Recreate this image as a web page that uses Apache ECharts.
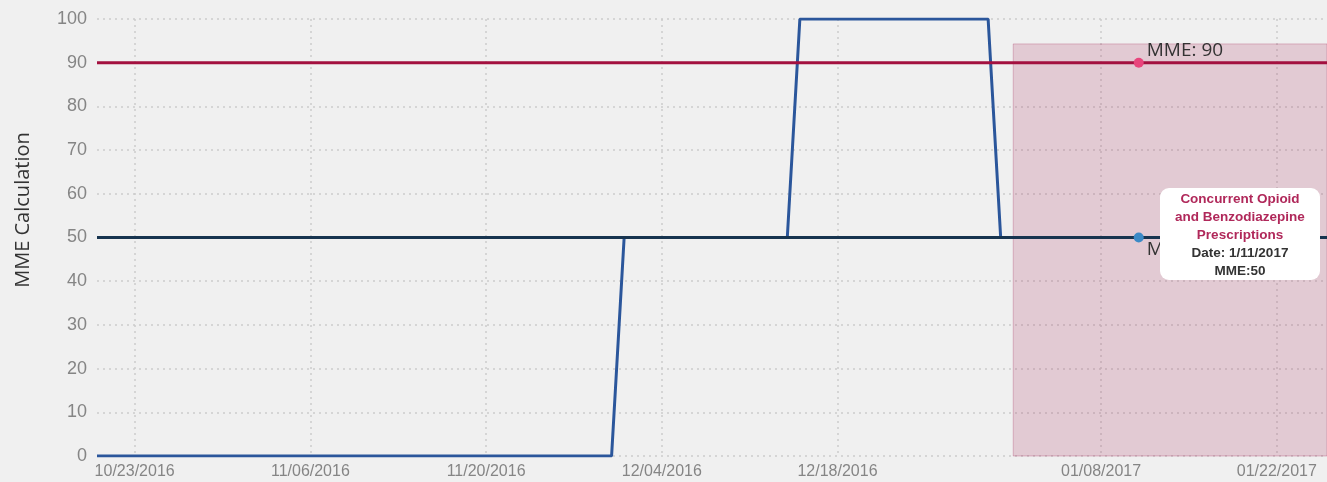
<!DOCTYPE html>
<html>
<head>
<meta charset="utf-8">
<script src="https://cdn.jsdelivr.net/npm/echarts@6/dist/echarts.min.js"></script>
<style>
html, body { margin: 0; padding: 0; background: #f0f0f0; }
#chart { width: 1327px; height: 482px; }
</style>
</head>
<body>
<div id="chart"></div>
<script>
// 坐标轴范围和刻度
var axisStart = '2016-10-20';
var axisEnd = '2017-01-26';
var tickDates = ['2016-10-23', '2016-11-06', '2016-11-20', '2016-12-04', '2016-12-18', '2017-01-08', '2017-01-22'];

// MME 折线
var mmeDates = ['2016-10-20', '2016-11-30', '2016-12-01', '2016-12-14', '2016-12-15', '2016-12-30', '2016-12-31', '2017-01-26'];
var mmeValues = [0, 0, 50, 50, 100, 100, 50, 50];

// 阈值线
var limitHigh = 90;
var limitLow = 50;
var markerDate = '2017-01-11';

// 并用处方区间
var overlapStart = '2017-01-01';
var overlapTop = 94.3;

var toTime = function(s) {
	var p = s.split('-');
	return Date.UTC(+p[0], +p[1] - 1, +p[2]);
};
var pad = function(n) { return n < 10 ? '0' + n : '' + n; };
var fmtDate = function(t) {
	var d = new Date(t);
	return pad(d.getUTCMonth() + 1) + '/' + pad(d.getUTCDate()) + '/' + d.getUTCFullYear();
};

var xMin = toTime(axisStart);
var xMax = toTime(axisEnd);
var ticks = tickDates.map(toTime);

var mmeData = mmeDates.map(function(d, i) { return [toTime(d), mmeValues[i]]; });

var limitLine = function(value, dotColor) {
	return [
		[xMin, value],
		{
			value: [toTime(markerDate), value],
			symbol: 'circle',
			symbolSize: 10,
			itemStyle: { color: dotColor },
			label: {
				show: true,
				formatter: 'MME: ' + value,
				position: 'right',
				offset: [-2, value === limitHigh ? -12 : 12],
				color: '#333',
				fontSize: 19,
				fontFamily: 'Open Sans'
			}
		},
		[xMax, value]
	];
};

var myChart = echarts.init(document.getElementById('chart'));
var option = {
	backgroundColor: '#f0f0f0',
	animation: false,
	grid: { left: 97, right: 0, top: 19, bottom: 26 },
	tooltip: {
		trigger: 'item',
		alwaysShowContent: true,
		backgroundColor: '#fff',
		borderColor: '#fff',
		borderWidth: 0,
		borderRadius: 9,
		padding: [2, 5, 0, 5],
		extraCssText: 'box-shadow:none;text-align:center;white-space:normal;',
		position: function(point) {
			return [point[0] + 21, point[1] - 50];
		},
		formatter: function() {
			return '<div style="width:150px;white-space:normal;font:bold 13.5px Arial, Liberation Sans, sans-serif;line-height:18px;">' +
				'<div style="color:#b0285a;">Concurrent Opioid<br>and Benzodiazepine<br>Prescriptions</div>' +
				'<div style="color:#333;">Date: 1/11/2017</div>' +
				'<div style="color:#333;">MME:' + limitLow + '</div></div>';
		}
	},
	graphic: [{
		type: 'text',
		x: 23,
		y: 210,
		rotation: Math.PI / 2,
		style: {
			text: 'MME Calculation',
			align: 'center',
			verticalAlign: 'middle',
			fill: '#333',
			fontSize: 20,
			fontFamily: 'Open Sans'
		}
	}],
	xAxis: {
		type: 'value',
		min: xMin,
		max: xMax,
		axisLine: { show: false },
		axisTick: { show: false, customValues: ticks },
		axisLabel: {
			customValues: ticks,
			formatter: fmtDate,
			color: '#858585',
			fontSize: 16,
			fontFamily: 'Liberation Sans',
			margin: 8
		},
		splitLine: { show: true, lineStyle: { color: '#cccccc', type: [2, 4], width: 1.5 } }
	},
	yAxis: {
		type: 'value',
		min: 0,
		max: 100,
		interval: 10,
		axisLine: { show: false },
		axisTick: { show: false },
		axisLabel: { color: '#858585', fontSize: 18, fontFamily: 'Liberation Sans', margin: 10 },
		splitLine: { lineStyle: { color: '#cccccc', type: [2, 4], width: 1.5 } }
	},
	series: [{
		name: 'MME',
		type: 'line',
		data: mmeData,
		symbol: 'none',
		lineStyle: { color: '#2b569b', width: 3 },
		itemStyle: { color: '#2b569b' },
		markArea: {
			silent: true,
			itemStyle: { color: 'rgba(160,20,70,0.17)', borderColor: 'rgba(160,20,70,0.25)', borderWidth: 1 },
			data: [[{ coord: [toTime(overlapStart), 0] }, { coord: [xMax, overlapTop] }]]
		},
		z: 2
	}, {
		name: 'MME 90',
		type: 'line',
		data: limitLine(limitHigh, '#e8457c'),
		symbol: 'none',
		showSymbol: true,
		lineStyle: { color: '#a3103f', width: 3 },
		itemStyle: { color: '#a3103f' },
		z: 3
	}, {
		name: 'MME 50',
		type: 'line',
		data: limitLine(limitLow, '#3b8ac6'),
		symbol: 'none',
		showSymbol: true,
		lineStyle: { color: '#17344f', width: 3 },
		itemStyle: { color: '#17344f' },
		z: 3
	}]
};
myChart.setOption(option);
myChart.dispatchAction({ type: 'showTip', seriesIndex: 2, dataIndex: 1 });
</script>
</body>
</html>
